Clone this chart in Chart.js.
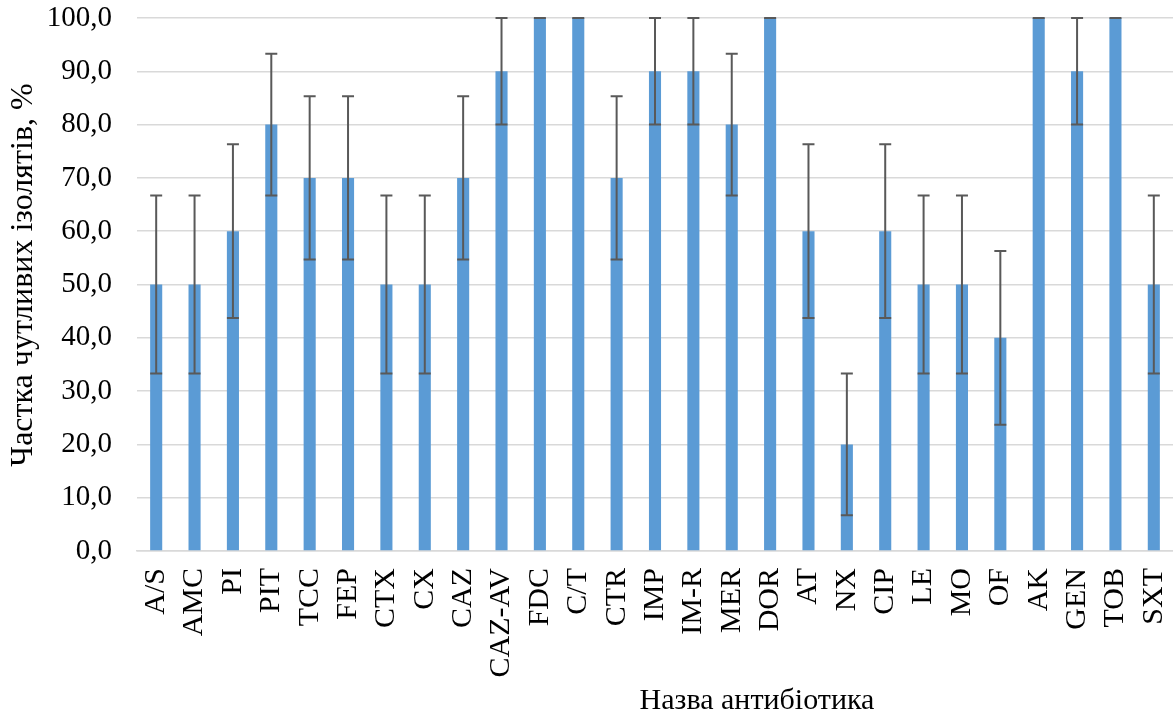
<!DOCTYPE html>
<html>
<head>
<meta charset="utf-8">
<script src="https://cdn.jsdelivr.net/npm/chart.js@4/dist/chart.umd.min.js"></script>
<style>
  body { margin: 0; background: #fff; }
  #wrap { width: 1173px; height: 717px; position: relative; }
</style>
</head>
<body>
<div id="wrap"><canvas id="chart"></canvas></div>
<script>
const categories = ['A/S', 'AMC', 'PI', 'PIT', 'TCC', 'FEP', 'CTX', 'CX', 'CAZ', 'CAZ-AV',
  'FDC', 'C/T', 'CTR', 'IMP', 'IM-R', 'MER', 'DOR', 'AT', 'NX', 'CIP',
  'LE', 'MO', 'OF', 'AK', 'GEN', 'TOB', 'SXT'];
const values = [50, 50, 60, 80, 70, 70, 50, 50, 70, 90,
  100, 100, 70, 90, 90, 80, 100, 60, 20, 60,
  50, 50, 40, 100, 90, 100, 50];
const lowerCI = [33.3, 33.3, 43.7, 66.7, 54.7, 54.7, 33.3, 33.3, 54.7, 80,
  100, 100, 54.7, 80, 80, 66.7, 100, 43.7, 6.7, 43.7,
  33.3, 33.3, 23.7, 100, 80, 100, 33.3];
const upperCI = [66.7, 66.7, 76.3, 93.3, 85.3, 85.3, 66.7, 66.7, 85.3, 100,
  100, 100, 85.3, 100, 100, 93.3, 100, 76.3, 33.3, 76.3,
  66.7, 66.7, 56.3, 100, 100, 100, 66.7];
const yTicks = [0, 10, 20, 30, 40, 50, 60, 70, 80, 90, 100];
const yTitle = 'Частка чутливих ізолятів, %';
const xTitle = 'Назва антибіотика';

const FONT = '"Liberation Serif", "Times New Roman", serif';

// error bars + axis titles (placed like in the Excel original)
const extras = {
  id: 'extras',
  afterDatasetsDraw(chart) {
    const ctx = chart.ctx;
    const y = chart.scales.y;
    const meta = chart.getDatasetMeta(0);
    ctx.save();
    ctx.strokeStyle = '#595959';
    ctx.lineWidth = 2;
    meta.data.forEach((bar, i) => {
      const x = bar.x;
      const yl = y.getPixelForValue(lowerCI[i]);
      const yh = y.getPixelForValue(upperCI[i]);
      ctx.beginPath();
      ctx.moveTo(x, yl); ctx.lineTo(x, yh);
      ctx.moveTo(x - 6, yl); ctx.lineTo(x + 6, yl);
      ctx.moveTo(x - 6, yh); ctx.lineTo(x + 6, yh);
      ctx.stroke();
    });
    ctx.restore();
  },
  afterDraw(chart) {
    const ctx = chart.ctx;
    ctx.save();
    ctx.fillStyle = '#000';
    ctx.font = '32px ' + FONT;
    ctx.textAlign = 'center';
    ctx.textBaseline = 'middle';
    ctx.translate(24, 275);
    ctx.rotate(-Math.PI / 2);
    ctx.fillText(yTitle, 0, 0);
    ctx.restore();
    ctx.save();
    ctx.fillStyle = '#000';
    ctx.font = '30px ' + FONT;
    ctx.textAlign = 'center';
    ctx.textBaseline = 'alphabetic';
    ctx.fillText(xTitle, 757, 709);
    ctx.restore();
  }
};

new Chart(document.getElementById('chart'), {
  type: 'bar',
  data: {
    labels: categories,
    datasets: [{
      data: values,
      backgroundColor: '#5b9bd5',
      borderWidth: 0,
      barPercentage: 0.9,
      categoryPercentage: 0.35
    }]
  },
  options: {
    responsive: true,
    maintainAspectRatio: false,
    animation: false,
    layout: { padding: { top: 18, left: 0, right: 0, bottom: 0 } },
    plugins: { legend: { display: false }, tooltip: { enabled: false } },
    scales: {
      x: {
        grid: { display: false, drawTicks: false },
        border: { display: true, color: '#d9d9d9', width: 1.5 },
        ticks: {
          color: '#000',
          font: { family: FONT, size: 30 },
          minRotation: 90,
          maxRotation: 90,
          autoSkip: false,
          padding: 17
        },
        afterFit(scale) {
          scale.height = 166;
          scale.paddingLeft = 0;
          scale.paddingRight = 0;
        }
      },
      y: {
        min: 0,
        max: 100,
        afterBuildTicks(scale) { scale.ticks = yTicks.map(v => ({ value: v })); },
        grid: { color: '#d9d9d9', lineWidth: 1.5, drawTicks: false },
        border: { display: false },
        ticks: {
          color: '#000',
          font: { family: FONT, size: 29 },
          padding: 25,
          callback: v => v.toFixed(1).replace('.', ',')
        },
        afterFit(scale) {
          scale.width = 137;
          scale.paddingTop = 0;
          scale.paddingBottom = 0;
        }
      }
    }
  },
  plugins: [extras]
});
</script>
</body>
</html>
